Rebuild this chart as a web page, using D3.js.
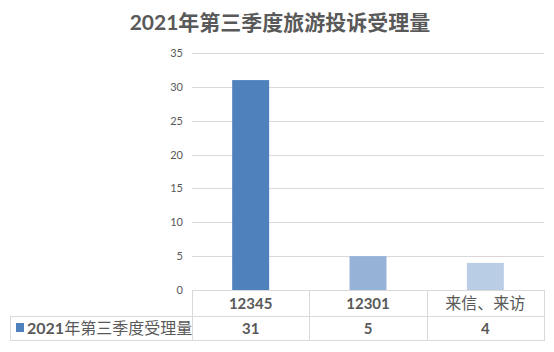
<!DOCTYPE html>
<html><head><meta charset="utf-8">
<script src="https://cdn.jsdelivr.net/npm/d3@7"></script>
<style>
body{margin:0;background:#fff;}
svg{display:block;}
text{font-family:Lato,"Noto Sans CJK SC",sans-serif;fill:#595959;}
</style></head>
<body>
<script>
const title = "2021年第三季度旅游投诉受理量";
const categories = ["12345", "12301", "来信、来访"];
const values = [31, 5, 4];
const seriesName = "2021年第三季度受理量";
const barColors = ["#4f81bd", "#95b3d7", "#b9cde5"];
const yTicks = [0, 5, 10, 15, 20, 25, 30, 35];

(function () {
const W = 554, H = 352;
const svg = d3.select("body").append("svg").attr("width", W).attr("height", H);

const plotLeft = 192, plotRight = 544, plotTop = 53, plotBottom = 290;
const row1 = 316, row2 = 340, tableLeft = 10;

const y = d3.scaleLinear().domain([0, 35]).range([plotBottom, plotTop]);
const xCell = d3.scaleBand().domain(categories).range([plotLeft, plotRight]).padding(0);
const xBar = d3.scaleBand().domain(categories).range([plotLeft, plotRight]).paddingInner(0.685).paddingOuter(0.3425);

// title
svg.append("text").attr("x", 280).attr("y", 30).attr("text-anchor", "middle")
  .style("font-size", "21px").style("font-weight", "bold").text(title);

// gridlines
svg.append("g").selectAll("line").data(yTicks.filter(d => d > 0)).join("line")
  .attr("x1", plotLeft).attr("x2", plotRight).attr("y1", d => Math.round(y(d)) + 0.5).attr("y2", d => Math.round(y(d)) + 0.5)
  .attr("stroke", "#d9d9d9").attr("stroke-width", 1);

// y axis labels
const yAxis = d3.axisLeft(y).tickValues(yTicks).tickSize(0).tickPadding(9);
const ga = svg.append("g").attr("transform", `translate(${plotLeft},0)`).call(yAxis);
ga.select(".domain").remove();
ga.selectAll("text").style("font-size", "11px").style("fill", "#595959").style("font-family", "Lato,sans-serif");

// bars
svg.append("g").selectAll("rect").data(values).join("rect")
  .attr("x", (d, i) => xBar(categories[i])).attr("width", xBar.bandwidth())
  .attr("y", d => y(d)).attr("height", d => y(0) - y(d))
  .attr("fill", (d, i) => barColors[i]);

// table
const tg = svg.append("g").attr("stroke", "#d9d9d9").attr("stroke-width", 1).attr("fill", "none");
tg.append("line").attr("x1", plotLeft).attr("x2", plotRight).attr("y1", plotBottom + 0.5).attr("y2", plotBottom + 0.5);
tg.append("line").attr("x1", tableLeft).attr("x2", plotRight).attr("y1", row1 + 0.5).attr("y2", row1 + 0.5);
tg.append("line").attr("x1", tableLeft).attr("x2", plotRight).attr("y1", row2 + 0.5).attr("y2", row2 + 0.5);
tg.append("line").attr("x1", tableLeft + 0.5).attr("x2", tableLeft + 0.5).attr("y1", row1).attr("y2", row2 + 1);
const vx = [plotLeft, ...categories.map(c => xCell(c) + xCell.bandwidth())];
tg.selectAll("line.v").data(vx).join("line").attr("class", "v")
  .attr("x1", d => Math.round(d) + 0.5).attr("x2", d => Math.round(d) + 0.5)
  .attr("y1", plotBottom).attr("y2", row2 + 1);

// category labels
svg.append("g").selectAll("text").data(categories).join("text")
  .attr("x", d => xCell(d) + xCell.bandwidth() / 2).attr("y", 309)
  .attr("text-anchor", "middle")
  .style("font-size", d => /^\d+$/.test(d) ? "15px" : "16px")
  .style("font-weight", d => /^\d+$/.test(d) ? "bold" : "normal")
  .text(d => d);

// values
svg.append("g").selectAll("text").data(values).join("text")
  .attr("x", (d, i) => xCell(categories[i]) + xCell.bandwidth() / 2).attr("y", 334)
  .attr("text-anchor", "middle").style("font-size", "15px").style("font-weight", "bold")
  .text(d => d);

// legend key
svg.append("rect").attr("x", 16).attr("y", 323).attr("width", 8).attr("height", 9).attr("fill", barColors[0]);
const lt = svg.append("text").attr("x", 27).attr("y", 334).style("font-size", "16px");
lt.append("tspan").style("font-weight", "bold").text(seriesName.slice(0, 4));
lt.append("tspan").text(seriesName.slice(4));
})();
</script>
</body></html>
